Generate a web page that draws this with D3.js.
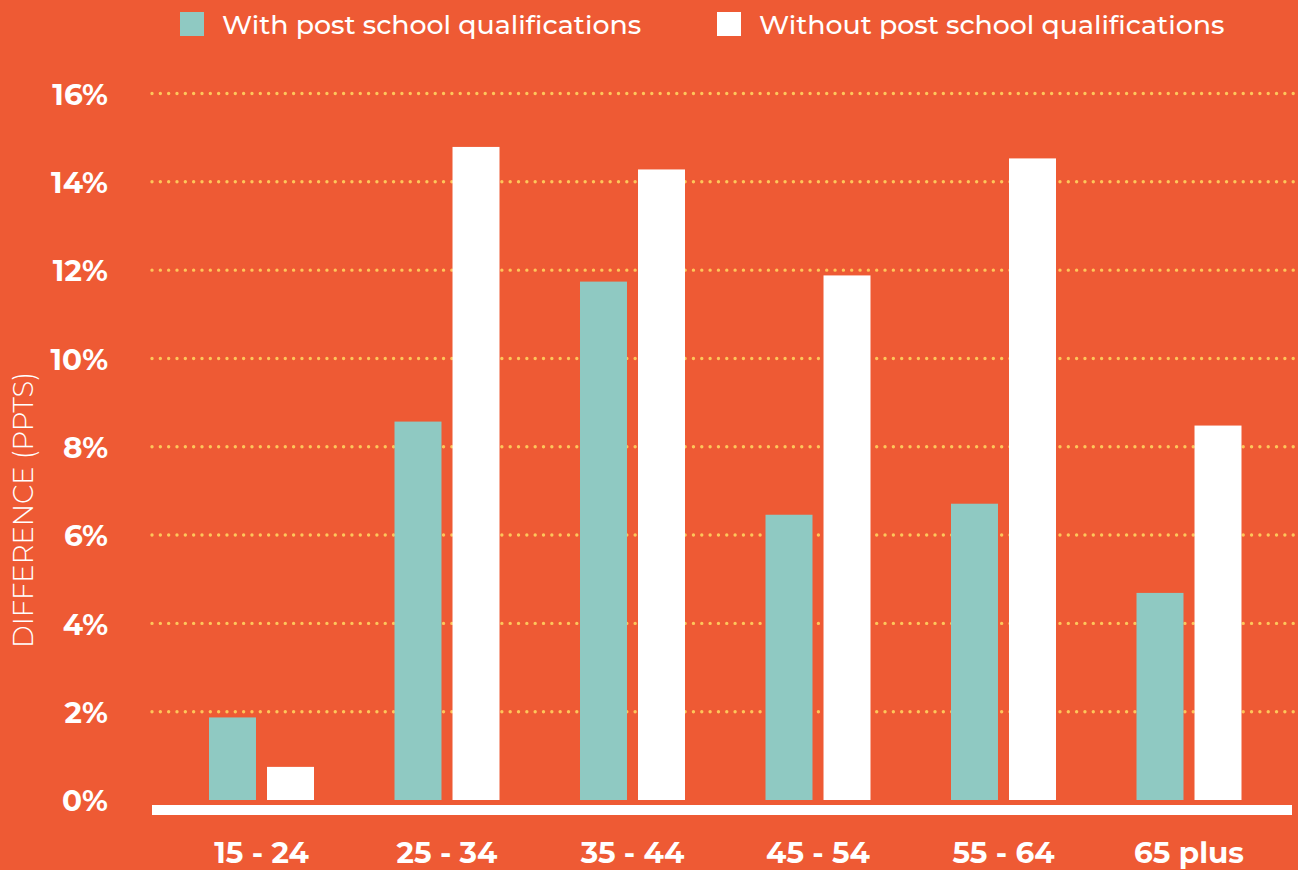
<!DOCTYPE html>
<html>
<head>
<meta charset="utf-8">
<script src="https://cdn.jsdelivr.net/npm/d3@7"></script>
<style>
  html, body { margin: 0; padding: 0; background: #EE5A34; }
  svg { display: block; }
</style>
</head>
<body>
<svg id="chart" width="1298" height="870"></svg>
<script>
const categories = ["15 - 24", "25 - 34", "35 - 44", "45 - 54", "55 - 64", "65 plus"];
const seriesNames = ["With post school qualifications", "Without post school qualifications"];
const withQual = [1.87, 8.57, 11.74, 6.46, 6.71, 4.69];
const withoutQual = [0.75, 14.79, 14.28, 11.88, 14.53, 8.48];
const yTicks = [0, 2, 4, 6, 8, 10, 12, 14, 16];
const yTitle = "DIFFERENCE (PPTS)";

const colors = ["#8FC9C2", "#FFFFFF"];
const bg = "#EE5A34";
const gridColor = "#FDC65A";
const font = "Montserrat, 'Open Sans', sans-serif";

const W = 1298, H = 870;
const svg = d3.select("#chart");
svg.append("rect").attr("width", W).attr("height", H).attr("fill", bg);

const y = d3.scaleLinear().domain([0, 16]).range([800, 93.5]);
const x = d3.scaleBand().domain(categories).range([168.75, 1281.75]).paddingInner(0.434).paddingOuter(0.217);
const xs = d3.scaleBand().domain(seriesNames).range([0, x.bandwidth()]).paddingInner(0.19).paddingOuter(0);

const plotLeft = 152, plotRight = 1292;

// gridlines
svg.append("g").selectAll("line")
  .data(yTicks.filter(d => d > 0))
  .join("line")
  .attr("x1", plotLeft).attr("x2", W)
  .attr("y1", d => y(d)).attr("y2", d => y(d))
  .attr("stroke", gridColor)
  .attr("stroke-width", 3.4)
  .attr("stroke-linecap", "round")
  .attr("stroke-dasharray", "0 8.33");

// bars
const rows = categories.map((c, i) => ({ cat: c, vals: [withQual[i], withoutQual[i]] }));
const groups = svg.append("g").selectAll("g")
  .data(rows).join("g")
  .attr("transform", d => `translate(${x(d.cat)},0)`);
groups.selectAll("rect")
  .data(d => d.vals.map((v, j) => ({ name: seriesNames[j], v, j })))
  .join("rect")
  .attr("x", d => xs(d.name))
  .attr("width", xs.bandwidth())
  .attr("y", d => y(d.v))
  .attr("height", d => y(0) - y(d.v))
  .attr("fill", d => colors[d.j]);

// baseline
svg.append("rect")
  .attr("x", plotLeft).attr("width", plotRight - plotLeft)
  .attr("y", y(0) + 5).attr("height", 10)
  .attr("fill", "#FFFFFF");

// y axis
const yAxis = svg.append("g")
  .attr("transform", "translate(108,0)")
  .call(d3.axisLeft(y).tickValues(yTicks).tickSize(0).tickPadding(0).tickFormat(d => d + "%"));
yAxis.select(".domain").remove();
yAxis.selectAll("text")
  .attr("fill", "#FFFFFF")
  .attr("font-family", font)
  .attr("font-weight", 700)
  .attr("font-size", 29.5)
  .attr("dy", "0.36em");

// x axis
const xAxis = svg.append("g")
  .attr("transform", "translate(0,842)")
  .call(d3.axisBottom(x).tickSize(0).tickPadding(0));
xAxis.select(".domain").remove();
xAxis.selectAll("text")
  .attr("fill", "#FFFFFF")
  .attr("font-family", font)
  .attr("font-weight", 700)
  .attr("font-size", 29.5)
  .attr("dy", "0.71em");

// y title
svg.append("text")
  .attr("transform", "translate(33,510) rotate(-90)")
  .attr("text-anchor", "middle")
  .attr("fill", "#FFFFFF")
  .attr("font-family", font)
  .attr("font-weight", 300)
  .attr("font-size", 27.4)
  .text(yTitle);

// legend
const legendX = [180, 717];
const leg = svg.append("g").selectAll("g")
  .data(seriesNames).join("g")
  .attr("transform", (d, i) => `translate(${legendX[i]},12)`);
leg.append("rect").attr("width", 24).attr("height", 24).attr("fill", (d, i) => colors[i]);
leg.append("text")
  .attr("x", 42).attr("y", 22)
  .attr("fill", "#FFFFFF")
  .attr("font-family", font)
  .attr("font-weight", 500)
  .attr("font-size", 26.8)
  .text(d => d);
</script>
</body>
</html>
